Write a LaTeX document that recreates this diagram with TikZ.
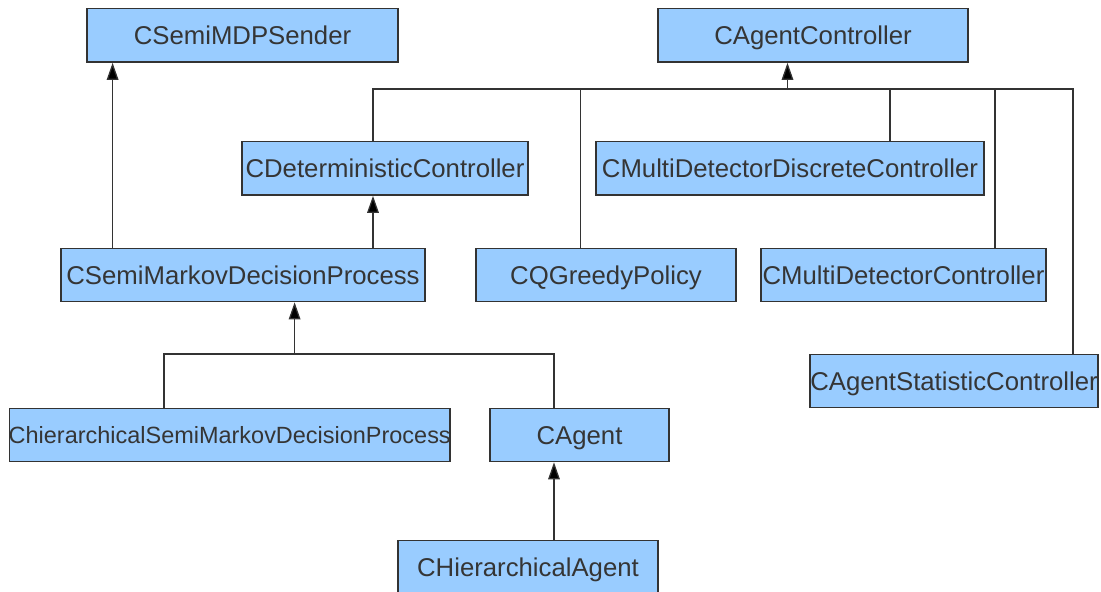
\documentclass[tikz,border=0pt]{standalone}
\usepackage{fontspec}
\setmainfont{Liberation Sans}
\usetikzlibrary{arrows.meta}

\definecolor{classfill}{HTML}{99CCFF}
\definecolor{classedge}{HTML}{333333}
\definecolor{classtext}{HTML}{353535}

\begin{document}
\begin{tikzpicture}[
  x=0.75pt, y=-0.75pt,
  classbox/.style={draw=classedge, line width=1pt, fill=classfill,
    inner sep=0pt, minimum height=40pt, text=classtext,
    font=\fontsize{19.3pt}{23pt}\selectfont,
    text height=13.8pt, text depth=0pt},
  smallname/.style={font=\fontsize{17.6pt}{21pt}\selectfont, text height=12.6pt},
  link/.style={draw=classedge, line width=0.95pt},
  inherit/.style={link, -{Triangle[length=12.75pt,width=8.7pt,fill=black]}},
]
\useasboundingbox (0,0) rectangle (1101,592);
\clip (0,0) rectangle (1101,592);

% classes
\node[classbox, minimum width=233.25pt] (sender)    at (242.5,35.5) {\makebox[0pt]{CSemiMDPSender}};
\node[classbox, minimum width=232.5pt]  (agentctrl) at (813,35.5)   {\makebox[0pt]{CAgentController}};
\node[classbox, minimum width=214.5pt]  (detctrl)   at (385,168.5)  {\makebox[0pt]{CDeterministicController}};
\node[classbox, minimum width=291pt]    (mddctrl)   at (790,168.5)  {\makebox[0pt]{CMultiDetectorDiscreteController}};
\node[classbox, minimum width=273pt]    (smdp)      at (243,275)    {\makebox[0pt]{CSemiMarkovDecisionProcess}};
\node[classbox, minimum width=195pt]    (qgreedy)   at (606,275)    {\makebox[0pt]{CQGreedyPolicy}};
\node[classbox, minimum width=213.75pt] (mdctrl)    at (903.5,275)  {\makebox[0pt]{CMultiDetectorController}};
\node[classbox, minimum width=216pt]    (statctrl)  at (954,381)    {\makebox[0pt]{CAgentStatisticController}};
\node[classbox, smallname, minimum width=330.4pt] (hsmdp) at (229.75,435) {\makebox[0pt]{ChierarchicalSemiMarkovDecisionProcess}};
\node[classbox, minimum width=134.25pt] (agent)     at (579.5,435)  {\makebox[0pt]{CAgent}};
\node[classbox, minimum width=195pt]    (hagent)    at (528,567)    {\makebox[0pt]{CHierarchicalAgent}};

% connector columns and bus junctions
\coordinate (xS)    at (112.6,0);
\coordinate (xDet)  at (373,0);
\coordinate (xQ)    at (580.5,0);
\coordinate (xMdd)  at (890,0);
\coordinate (xMd)   at (995,0);
\coordinate (xStat) at (1073,0);
\coordinate (xH)    at (164,0);
\coordinate (xAg)   at (554,0);
\coordinate (busA)  at (787.5,89);
\coordinate (busB)  at (294.6,354);

% CAgentController hierarchy
\draw[inherit] (busA) -- (busA |- agentctrl.south);
\draw[link] (detctrl.north -| xDet) |- (busA);
\draw[link] (qgreedy.north -| xQ) |- (busA);
\draw[link] (mddctrl.north -| xMdd) |- (busA);
\draw[link] (mdctrl.north -| xMd) |- (busA);
\draw[link] (statctrl.north -| xStat) |- (busA);

% CSemiMarkovDecisionProcess parents
\draw[inherit] (smdp.north -| xS) -- (sender.south -| xS);
\draw[inherit] (smdp.north -| xDet) -- (detctrl.south -| xDet);

% CSemiMarkovDecisionProcess hierarchy
\draw[inherit] (busB) -- (busB |- smdp.south);
\draw[link] (hsmdp.north -| xH) |- (busB);
\draw[link] (agent.north -| xAg) |- (busB);

% CAgent hierarchy
\draw[inherit] (hagent.north -| xAg) -- (agent.south -| xAg);
\end{tikzpicture}
\end{document}
